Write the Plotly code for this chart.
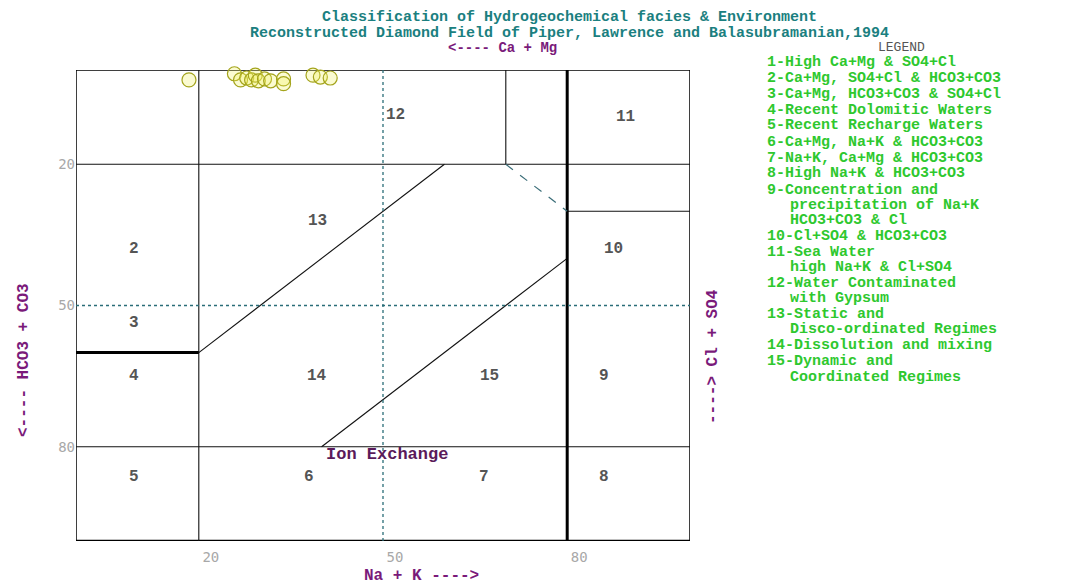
import plotly.graph_objects as go

# ---------------- data ----------------
sample_na_k = [18.4, 25.8, 26.8, 27.8, 28.6, 29.2, 29.7, 30.7, 31.7, 33.8, 33.8, 38.6, 39.8, 41.4]
sample_hco3 = [2.1, 0.8, 2.1, 1.7, 2.1, 1.1, 2.3, 1.9, 2.3, 1.9, 2.9, 1.1, 1.5, 1.7]

tick_vals = [20, 50, 80]
tick_text = ["20", "50", "80"]

# field boundaries in data units: (x0, y0, x1, y1)
solid_bounds = [(20, 0, 20, 100), (0, 20, 100, 20), (0, 80, 100, 80), (70, 0, 70, 20),
                (80, 30, 100, 30), (20, 60, 60, 20), (40, 80, 80, 40)]
thick_bounds = [(80, 0, 80, 100), (0, 60, 20, 60)]
dotted_bounds = [(50, 0, 50, 100), (0, 50, 100, 50)]
dashed_bounds = [(70, 20, 80, 30)]

region_ids = ["12", "11", "13", "10", "2", "3", "4", "14", "15", "9", "5", "6", "7", "8"]
region_x = [52, 89.5, 39.3, 87.6, 9.5, 9.5, 9.5, 39.3, 67.3, 86, 9.5, 38, 66.5, 86]
region_y = [9.5, 10, 32, 38, 38, 53.7, 65, 65, 65, 65, 86.5, 86.5, 86.5, 86.5]

legend_lines = [
    ("1-High Ca+Mg & SO4+Cl", ""),
    ("2-Ca+Mg, SO4+Cl & HCO3+CO3", ""),
    ("3-Ca+Mg, HCO3+CO3 & SO4+Cl", ""),
    ("4-Recent Dolomitic Waters", ""),
    ("5-Recent Recharge Waters", ""),
    ("6-Ca+Mg, Na+K & HCO3+CO3", ""),
    ("7-Na+K, Ca+Mg & HCO3+CO3", ""),
    ("8-High Na+K & HCO3+CO3", ""),
    ("9-Concentration and", "precipitation of Na+K|HCO3+CO3 & Cl"),
    ("10-Cl+SO4 & HCO3+CO3", ""),
    ("11-Sea Water", "high Na+K & Cl+SO4"),
    ("12-Water Contaminated", "with Gypsum"),
    ("13-Static and", "Disco-ordinated Regimes"),
    ("14-Dissolution and mixing", ""),
    ("15-Dynamic and", "Coordinated Regimes"),
]

title_lines = ["Classification of Hydrogeochemical facies & Environment",
               "Reconstructed Diamond Field of Piper, Lawrence and Balasubramanian,1994"]

# ---------------- layout helpers ----------------
SCR_W, SCR_H = 1073, 586
OFF = 8                      # default page body margin
L, R, T, B = 76, 690, 70, 541  # plot area on screen
W, H = SCR_W - OFF, SCR_H - OFF

def px(x):
    return (x - L) / (R - L)

def py(y):
    return (B - y) / (B - T)

MONO = "Liberation Mono"
GREEN = "#2ec82e"
TEAL = "#1b7f80"
PURPLE = "#7a1a7a"

fig = go.Figure()

fig.add_trace(go.Scatter(
    x=sample_na_k, y=sample_hco3, mode="markers", cliponaxis=False,
    marker=dict(symbol="circle", size=14, color="rgba(240,240,90,0.28)",
                line=dict(color="#a4a41c", width=1.2)),
    hoverinfo="x+y", showlegend=False))

shapes = []
shapes.append(dict(type="rect", xref="x", yref="y", x0=0, x1=100, y0=0, y1=100,
                   line=dict(color="black", width=1.5), layer="below"))
shapes.append(dict(type="line", xref="x", yref="y", x0=0, x1=100, y0=100, y1=100,
                   line=dict(color="black", width=2.5)))
for (x0, y0, x1, y1) in solid_bounds:
    shapes.append(dict(type="line", xref="x", yref="y", x0=x0, y0=y0, x1=x1, y1=y1,
                       line=dict(color="#111", width=1.1)))
for (x0, y0, x1, y1) in thick_bounds:
    shapes.append(dict(type="line", xref="x", yref="y", x0=x0, y0=y0, x1=x1, y1=y1,
                       line=dict(color="black", width=3)))
for (x0, y0, x1, y1) in dotted_bounds:
    shapes.append(dict(type="line", xref="x", yref="y", x0=x0, y0=y0, x1=x1, y1=y1,
                       line=dict(color="#2a6d78", width=1.3, dash="dot")))
for (x0, y0, x1, y1) in dashed_bounds:
    shapes.append(dict(type="line", xref="x", yref="y", x0=x0, y0=y0, x1=x1, y1=y1,
                       line=dict(color="#3a6d78", width=1.2, dash="dash")))

ann = []
for t, x, y in zip(region_ids, region_x, region_y):
    ann.append(dict(x=x, y=y, xref="x", yref="y", text="<b>" + t + "</b>", showarrow=False,
                    font=dict(family=MONO, size=16, color="#555")))
ann.append(dict(x=50.6, y=81.7, xref="x", yref="y", text="<b>Ion Exchange</b>", showarrow=False,
                font=dict(family=MONO, size=17, color="#5a1a5a")))

# titles
for line, yy in zip(title_lines, [17.5, 33]):
    ann.append(dict(x=px(569), y=py(yy), xref="paper", yref="paper", text="<b>" + line + "</b>",
                    showarrow=False, xanchor="center", yanchor="middle",
                    font=dict(family=MONO, size=15, color=TEAL)))
ann.append(dict(x=px(502), y=py(48.5), xref="paper", yref="paper", text="<b>&lt;---- Ca + Mg</b>",
                showarrow=False, xanchor="center", yanchor="middle",
                font=dict(family=MONO, size=14, color=PURPLE)))
ann.append(dict(x=px(421), y=py(576), xref="paper", yref="paper", text="<b>Na + K ----&gt;</b>",
                showarrow=False, xanchor="center", yanchor="middle",
                font=dict(family=MONO, size=16, color=PURPLE)))
ann.append(dict(x=px(24), y=py(360), xref="paper", yref="paper", text="<b>&lt;---- HCO3 + CO3</b>",
                showarrow=False, xanchor="center", yanchor="middle", textangle=-90,
                font=dict(family=MONO, size=16, color=PURPLE)))
ann.append(dict(x=px(713), y=py(357), xref="paper", yref="paper", text="<b>----&gt; Cl + SO4</b>",
                showarrow=False, xanchor="center", yanchor="middle", textangle=-90,
                font=dict(family=MONO, size=16, color=PURPLE)))

# legend
ann.append(dict(x=px(901), y=py(47), xref="paper", yref="paper", text="LEGEND",
                showarrow=False, xanchor="center", yanchor="middle",
                font=dict(family=MONO, size=13, color="#555")))
yy = 62.0
for first, rest in legend_lines:
    ann.append(dict(x=px(765), y=py(yy), xref="paper", yref="paper", text="<b>" + first + "</b>",
                    showarrow=False, xanchor="left", yanchor="middle",
                    font=dict(family=MONO, size=15, color=GREEN)))
    if rest:
        for sub in rest.split("|"):
            yy += 15.2
            ann.append(dict(x=px(788), y=py(yy), xref="paper", yref="paper",
                            text="<b>" + sub + "</b>", showarrow=False, xanchor="left",
                            yanchor="middle", font=dict(family=MONO, size=15, color=GREEN)))
    yy += 16

fig.update_layout(
    width=W, height=H, autosize=False,
    margin=dict(l=L - OFF, r=SCR_W - R, t=T - OFF, b=SCR_H - B),
    paper_bgcolor="white", plot_bgcolor="white",
    shapes=shapes, annotations=ann, showlegend=False,
    xaxis=dict(range=[0, 100], showgrid=False, zeroline=False, showline=False,
               tickvals=tick_vals, ticktext=tick_text, ticks="",
               ticklabelshift=12, ticklabelstandoff=6,
               tickfont=dict(family="DejaVu Sans Mono", size=14, color="#a8a8a8")),
    yaxis=dict(range=[100, 0], showgrid=False, zeroline=False, showline=False,
               tickvals=tick_vals, ticktext=tick_text, ticks="", ticklabelstandoff=0,
               tickfont=dict(family="DejaVu Sans Mono", size=14, color="#a8a8a8")),
)

fig.write_html("out.html")
